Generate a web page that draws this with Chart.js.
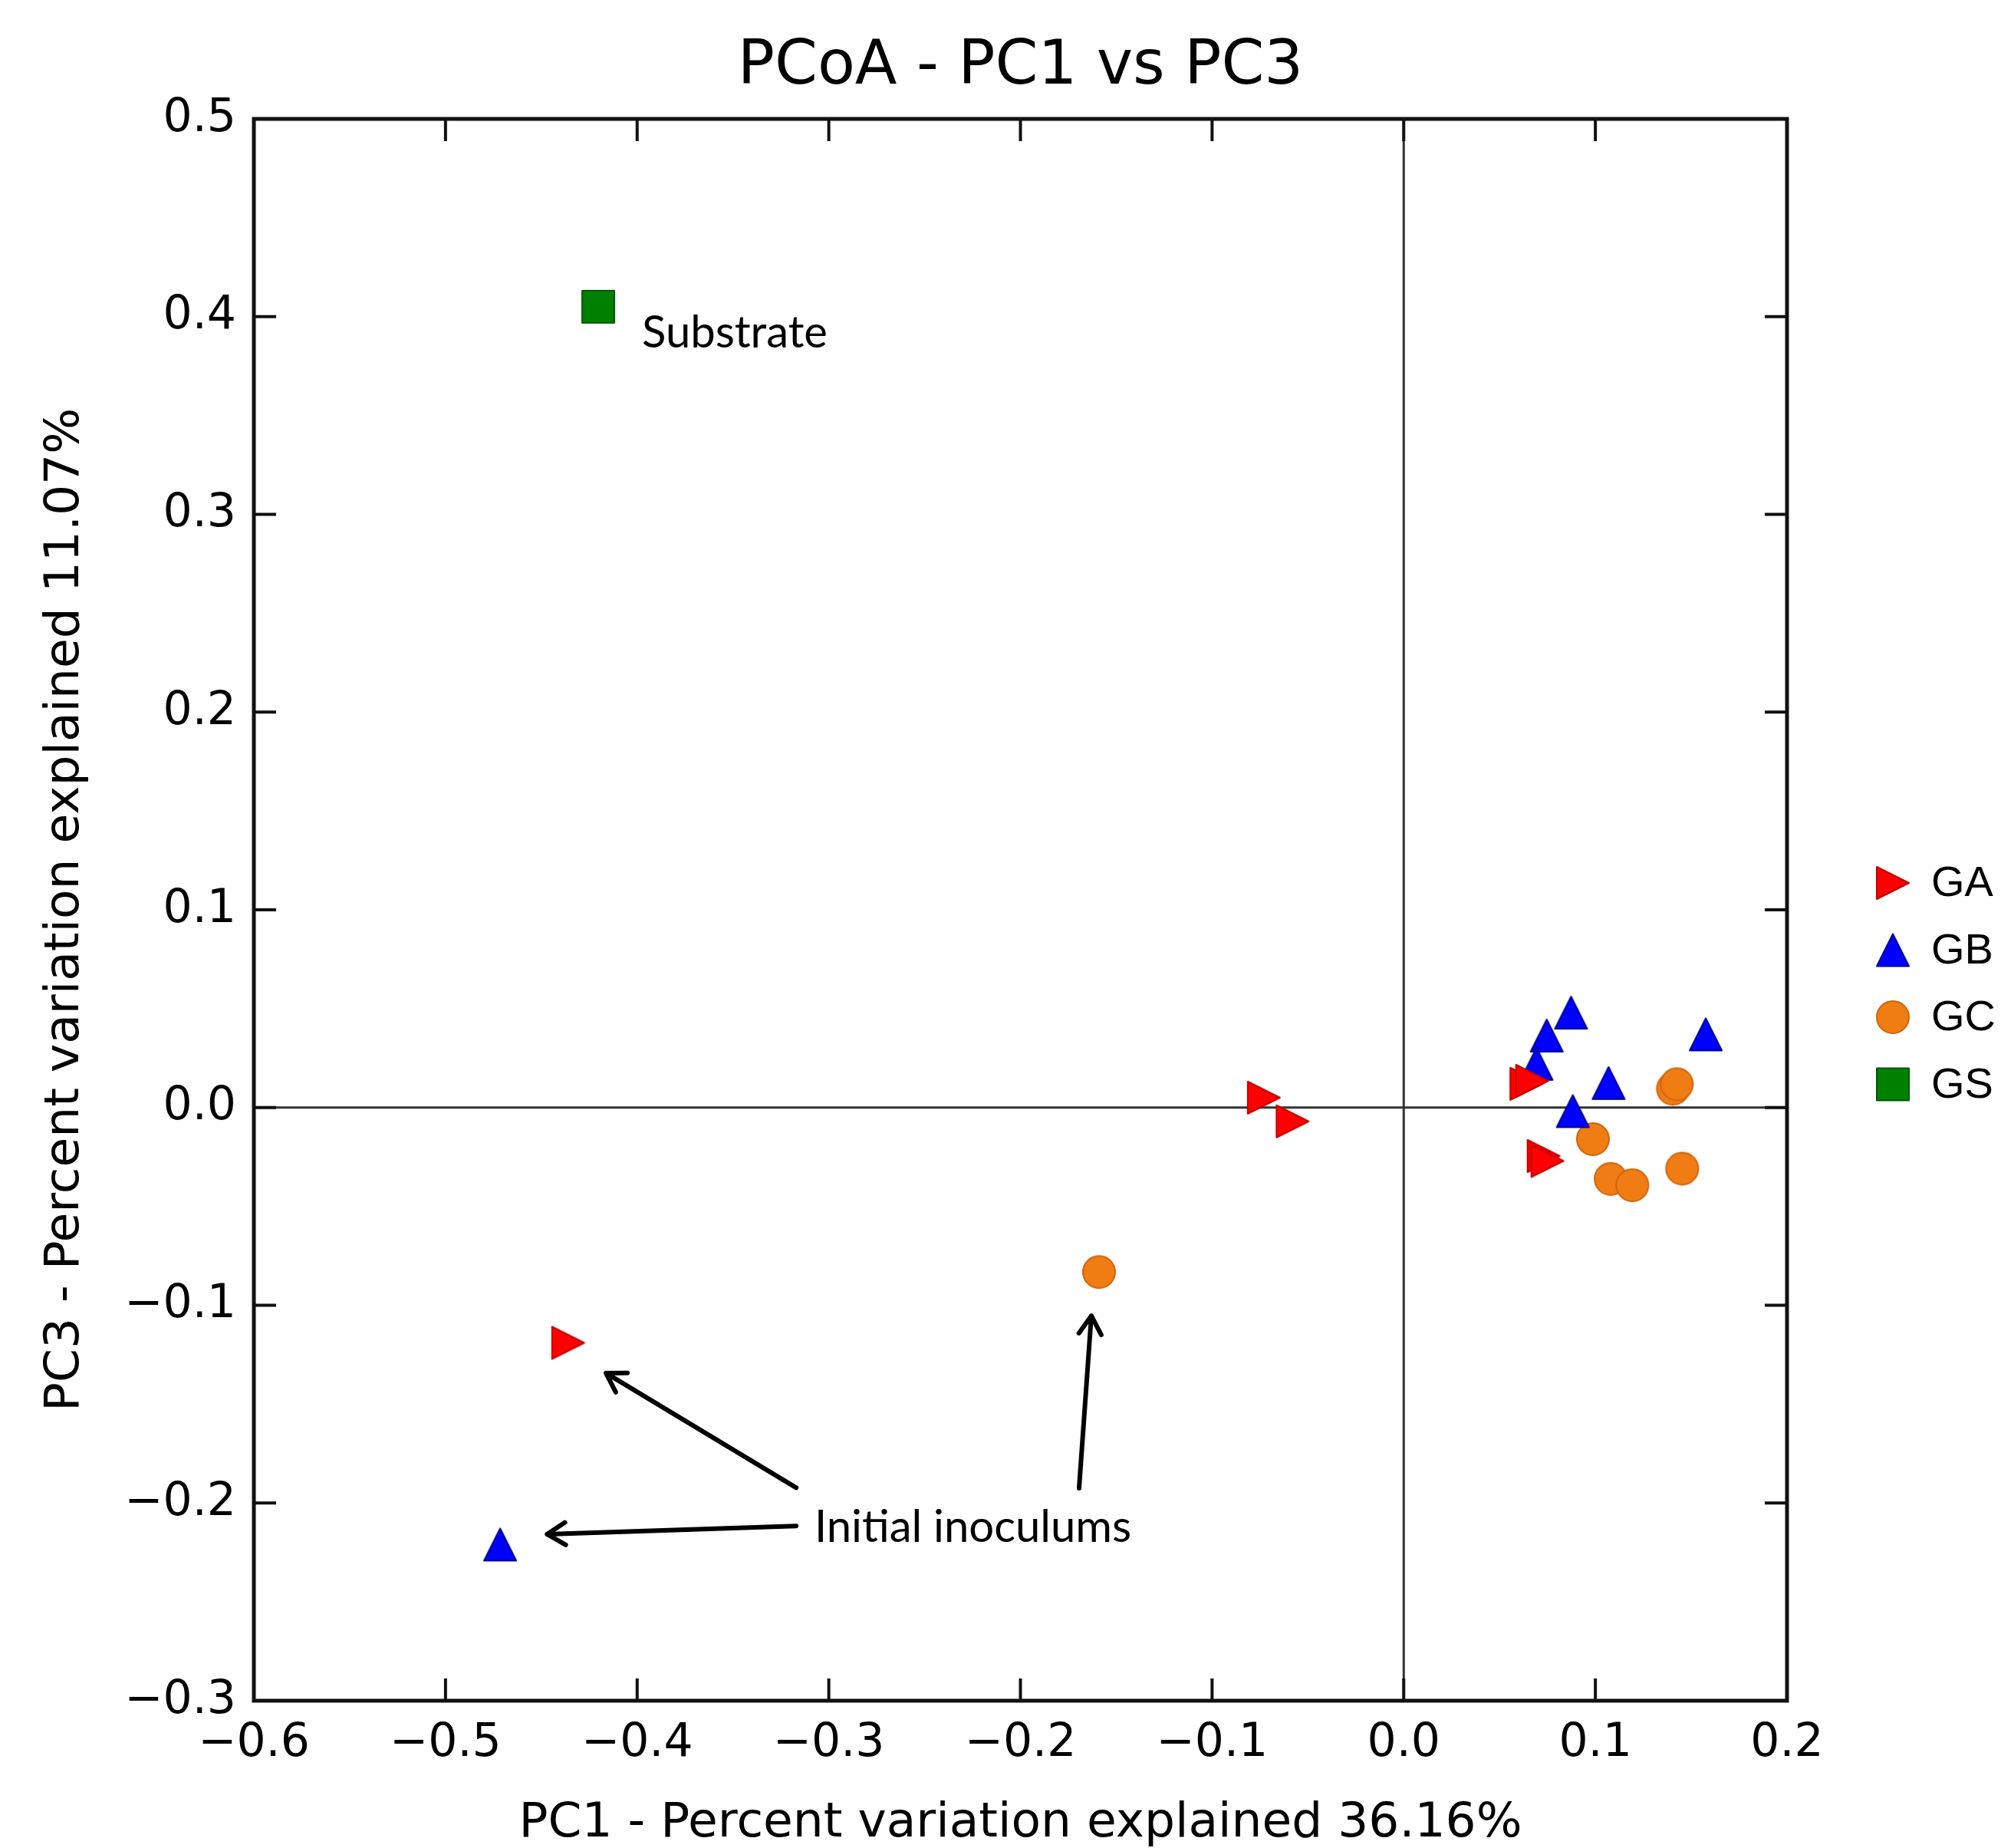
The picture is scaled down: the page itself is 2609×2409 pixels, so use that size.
<!DOCTYPE html>
<html>
<head>
<meta charset="utf-8">
<script src="https://cdn.jsdelivr.net/npm/chart.js@4.4.0/dist/chart.umd.min.js"></script>
<style>
  body { margin: 0; background: #fff; }
</style>
</head>
<body>
<canvas id="pcoa" width="2609" height="2409"></canvas>
<script>
// sample scores, PC1 (x) and PC3 (y), one pair of arrays per group
const gaPC1 = [-0.436, -0.073, -0.058, 0.064, 0.067, 0.073, 0.075];
const gaPC3 = [-0.119, 0.005, -0.007, 0.012, 0.0135, -0.0245, -0.027];
const gbPC1 = [-0.4715, 0.0873, 0.0746, 0.0693, 0.1069, 0.0882, 0.1576];
const gbPC3 = [-0.221, 0.048, 0.0364, 0.0221, 0.0124, -0.0018, 0.037];
const gcPC1 = [-0.159, 0.1405, 0.1425, 0.0987, 0.108, 0.1193, 0.1453];
const gcPC3 = [-0.0832, 0.0095, 0.0118, -0.016, -0.0361, -0.0393, -0.0309];
const gsPC1 = [-0.4203];
const gsPC3 = [0.405];

const groups = ['GA', 'GB', 'GC', 'GS'];
const xTicks = [-0.6, -0.5, -0.4, -0.3, -0.2, -0.1, 0.0, 0.1, 0.2];
const yTicks = [-0.3, -0.2, -0.1, 0.0, 0.1, 0.2, 0.3, 0.4, 0.5];

// annotations, in data units
const notes = [
  { text: 'Substrate', x: -0.3975, y: 0.3844 },
  { text: 'Initial inoculums', x: -0.3075, y: -0.2197 }
];
const arrows = [
  { x0: -0.317, y0: -0.1923, x1: -0.4163, y1: -0.1343 },
  { x0: -0.317, y0: -0.2116, x1: -0.447, y1: -0.2158 },
  { x0: -0.1694, y0: -0.1925, x1: -0.163, y1: -0.1053 }
];

function pts(xs, ys) {
  return xs.map((v, i) => ({ x: v, y: ys[i] }));
}

// matplotlib-like markers drawn once on small canvases
function makeMarker(shape, fill, edge) {
  const s = 50, h = s / 2, r = 21;
  const c = document.createElement('canvas');
  c.width = s; c.height = s;
  const g = c.getContext('2d');
  g.fillStyle = fill; g.strokeStyle = edge; g.lineWidth = 2; g.lineJoin = 'round';
  g.beginPath();
  if (shape === 'right') { g.moveTo(h + r, h); g.lineTo(h - r, h - r); g.lineTo(h - r, h + r); g.closePath(); }
  else if (shape === 'up') { g.moveTo(h, h - r); g.lineTo(h + r, h + r); g.lineTo(h - r, h + r); g.closePath(); }
  else if (shape === 'circle') { g.arc(h, h, r, 0, Math.PI * 2); }
  else { g.rect(h - r, h - r, 2 * r, 2 * r); }
  g.fill(); g.stroke();
  return c;
}

const markers = [
  makeMarker('right', '#ff0000', '#c40000'),
  makeMarker('up', '#0000ff', '#000090'),
  makeMarker('circle', '#f07c14', '#cf6408'),
  makeMarker('square', '#008000', '#005800')
];

function fmt(v) {
  if (Math.abs(v) < 1e-9) return '0.0';
  return v.toFixed(1).replace('-', '\u2212');
}

// frame, inward ticks on all four sides, zero lines
const framePlugin = {
  id: 'frame',
  beforeDatasetsDraw(chart) {
    const { ctx, chartArea: a, scales: { x, y } } = chart;
    ctx.save();
    ctx.strokeStyle = '#333';
    ctx.lineWidth = 3;
    ctx.beginPath();
    ctx.moveTo(x.getPixelForValue(0), a.top);
    ctx.lineTo(x.getPixelForValue(0), a.bottom);
    ctx.moveTo(a.left, y.getPixelForValue(0));
    ctx.lineTo(a.right, y.getPixelForValue(0));
    ctx.stroke();
    ctx.restore();
  },
  afterDraw(chart) {
    const { ctx, chartArea: a, scales: { x, y } } = chart;
    const tl = 29;
    ctx.save();
    ctx.strokeStyle = '#111';
    ctx.lineWidth = 4;
    ctx.beginPath();
    xTicks.forEach(v => {
      const px = x.getPixelForValue(v);
      ctx.moveTo(px, a.top); ctx.lineTo(px, a.top + tl);
      ctx.moveTo(px, a.bottom); ctx.lineTo(px, a.bottom - tl);
    });
    yTicks.forEach(v => {
      const py = y.getPixelForValue(v);
      ctx.moveTo(a.left, py); ctx.lineTo(a.left + tl, py);
      ctx.moveTo(a.right, py); ctx.lineTo(a.right - tl, py);
    });
    ctx.stroke();
    ctx.lineWidth = 5;
    ctx.strokeRect(a.left, a.top, a.right - a.left, a.bottom - a.top);
    ctx.restore();
  }
};

// text labels and arrows
const notePlugin = {
  id: 'notes',
  afterDatasetsDraw(chart) {
    const { ctx, scales: { x, y } } = chart;
    ctx.save();
    ctx.fillStyle = '#000';
    ctx.font = '58px Lato';
    ctx.textAlign = 'left';
    ctx.textBaseline = 'alphabetic';
    notes.forEach(n => ctx.fillText(n.text, x.getPixelForValue(n.x), y.getPixelForValue(n.y)));

    ctx.strokeStyle = '#000';
    ctx.lineWidth = 6;
    ctx.lineCap = 'round';
    ctx.lineJoin = 'round';
    arrows.forEach(ar => {
      const ax = x.getPixelForValue(ar.x0), ay = y.getPixelForValue(ar.y0);
      const bx = x.getPixelForValue(ar.x1), by = y.getPixelForValue(ar.y1);
      const ang = Math.atan2(by - ay, bx - ax);
      const hl = 28, spread = 0.55;
      ctx.beginPath();
      ctx.moveTo(ax, ay); ctx.lineTo(bx, by);
      ctx.moveTo(bx - hl * Math.cos(ang - spread), by - hl * Math.sin(ang - spread));
      ctx.lineTo(bx, by);
      ctx.lineTo(bx - hl * Math.cos(ang + spread), by - hl * Math.sin(ang + spread));
      ctx.stroke();
    });
    ctx.restore();
  }
};

// legend at the right of the plot
const legendPlugin = {
  id: 'sideLegend',
  afterDraw(chart) {
    const { ctx, chartArea: a } = chart;
    ctx.save();
    ctx.fillStyle = '#000';
    ctx.font = '56px "Liberation Sans"';
    ctx.textBaseline = 'middle';
    groups.forEach((name, i) => {
      const cy = 1151 + i * 87.5;
      const cx = a.right + 138;
      const m = markers[i];
      ctx.drawImage(m, cx - m.width / 2, cy - m.height / 2);
      ctx.fillText(name, cx + 50, cy + 2);
    });
    ctx.restore();
  }
};

const tickFont = { family: 'DejaVu Sans', size: 60 };

new Chart(document.getElementById('pcoa'), {
  type: 'scatter',
  data: {
    datasets: [
      { label: groups[0], data: pts(gaPC1, gaPC3), pointStyle: markers[0], pointRadius: 21 },
      { label: groups[1], data: pts(gbPC1, gbPC3), pointStyle: markers[1], pointRadius: 21 },
      { label: groups[2], data: pts(gcPC1, gcPC3), pointStyle: markers[2], pointRadius: 21 },
      { label: groups[3], data: pts(gsPC1, gsPC3), pointStyle: markers[3], pointRadius: 21 }
    ]
  },
  options: {
    responsive: false,
    devicePixelRatio: 1,
    animation: false,
    events: [],
    layout: { padding: { left: 0, right: 279, top: 0, bottom: 0 } },
    plugins: {
      legend: { display: false },
      tooltip: { enabled: false },
      title: {
        display: true,
        text: 'PCoA - PC1 vs PC3',
        fullSize: false,
        color: '#000',
        font: { family: 'DejaVu Sans', size: 80, weight: 'normal', lineHeight: 1.2 },
        padding: { top: 40, bottom: 19 }
      }
    },
    scales: {
      x: {
        type: 'linear',
        min: -0.6,
        max: 0.2,
        afterBuildTicks: s => { s.ticks = xTicks.map(v => ({ value: v })); },
        afterFit: s => { s.height = 192; },
        grid: { display: false, drawTicks: false },
        border: { display: false },
        ticks: { color: '#000', font: tickFont, padding: 20, callback: v => fmt(v), maxRotation: 0, autoSkip: false },
        title: {
          display: true, text: 'PC1 - Percent variation explained 36.16%', color: '#000',
          font: { family: 'DejaVu Sans', size: 63, lineHeight: 1.0 }, padding: { top: 0, bottom: 0 }
        }
      },
      y: {
        type: 'linear',
        min: -0.3,
        max: 0.5,
        afterBuildTicks: s => { s.ticks = yTicks.map(v => ({ value: v })); },
        afterFit: s => { s.width = 331; },
        grid: { display: false, drawTicks: false },
        border: { display: false },
        ticks: { color: '#000', font: tickFont, padding: 23, callback: v => fmt(v), autoSkip: false },
        title: {
          display: true, text: 'PC3 - Percent variation explained 11.07%', color: '#000',
          font: { family: 'DejaVu Sans', size: 63, lineHeight: 1.1 }, padding: { top: 51, bottom: 0 }
        }
      }
    }
  },
  plugins: [framePlugin, notePlugin, legendPlugin]
});
</script>
</body>
</html>
